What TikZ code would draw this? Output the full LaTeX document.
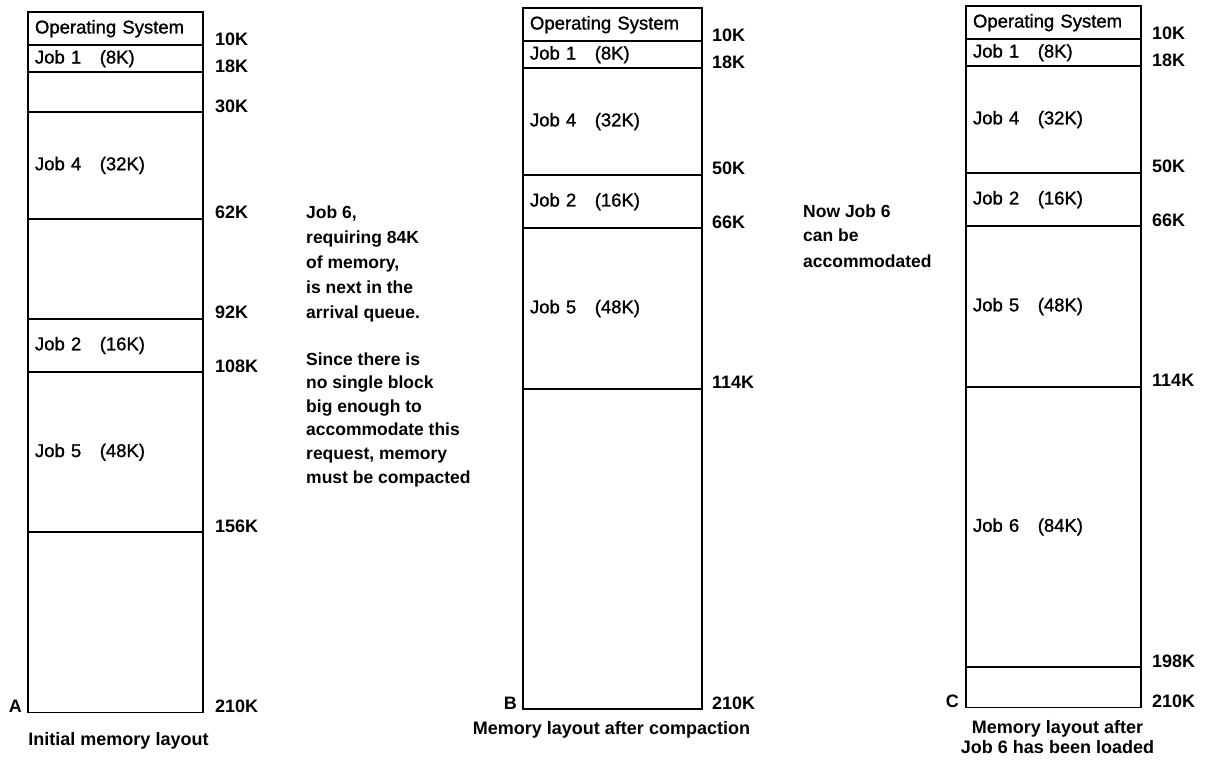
\documentclass[tikz,border=0pt]{standalone}
\usepackage{fontspec}
\setmainfont{Liberation Sans}
\newfontfamily\blkfont{Liberation Sans}[FakeBold=1.2]
\usetikzlibrary{positioning}

\begin{document}
\begin{tikzpicture}[
    x=1pt, y=-1pt,
    node distance=0pt,
    blk/.style={rectangle, draw=black, line width=1.8pt, outer sep=0pt, inner xsep=7pt, inner ysep=0pt, text width=161pt, align=left, font=\blkfont\fontsize{18.5}{20}\selectfont},
    klab/.style={anchor=base west, inner sep=0pt, font=\fontsize{18}{20}\selectfont\bfseries},
    tag/.style={anchor=base east, inner sep=0pt, font=\fontsize{18}{20}\selectfont\bfseries},
    captxt/.style={anchor=base, inner sep=0pt, align=center, font=\fontsize{18}{20}\selectfont\bfseries},
    note/.style={anchor=base west, inner sep=0pt, align=left, font=\fontsize{17.5}{25}\selectfont\bfseries}
]
\useasboundingbox (0,0) rectangle (1209,767);

% Layout A: initial memory
\node[blk, minimum height=33.4pt, anchor=north west] (aos) at (28,12) {Operating System};
\node[blk, minimum height=26.7pt, below=of aos] (a1) {Job 1\quad(8K)};
\node[blk, minimum height=40.0pt, below=of a1] (afree1) {};
\node[blk, minimum height=106.7pt, below=of afree1] (a4) {Job 4\quad(32K)};
\node[blk, minimum height=100.0pt, below=of a4] (afree2) {};
\node[blk, minimum height=53.4pt, below=of afree2] (a2) {Job 2\quad(16K)};
\node[blk, minimum height=160.1pt, below=of a2] (a5) {Job 5\quad(48K)};
\node[blk, minimum height=180.1pt, below=of a5] (afree3) {};

\node[klab] (ka10) at ([xshift=12pt]aos.south east) {10K};
\node[klab] (ka18) at ([xshift=12pt]a1.south east) {18K};
\node[klab] (ka30) at ([xshift=12pt]afree1.south east) {30K};
\node[klab] (ka62) at ([xshift=12pt]a4.south east) {62K};
\node[klab] (ka92) at ([xshift=12pt]afree2.south east) {92K};
\node[klab] (ka108) at ([xshift=12pt]a2.south east) {108K};
\node[klab] (ka156) at ([xshift=12pt]a5.south east) {156K};
\node[klab] (ka210) at ([xshift=12pt]afree3.south east) {210K};
\node[tag] (taga) at ([xshift=-6pt]afree3.south west) {A};
\node[captxt] (capa) at ([xshift=3pt, yshift=-32.6pt]afree3.south) {Initial memory layout};

% Notes between A and B
\node[note] (notejob) at (306,318) {Job 6,\\requiring 84K\\of memory,\\is next in the\\arrival queue.};
\node[note, font=\fontsize{17.5}{23.6}\selectfont\bfseries] (notecompact) at (306,483) {Since there is\\no single block\\big enough to\\accommodate this\\request, memory\\must be compacted};

% Layout B: after compaction
\node[blk, text width=165pt, minimum height=33.4pt, anchor=north west] (bos) at (523,8) {Operating System};
\node[blk, text width=165pt, minimum height=26.7pt, below=of bos] (b1) {Job 1\quad(8K)};
\node[blk, text width=165pt, minimum height=106.9pt, below=of b1] (b4) {Job 4\quad(32K)};
\node[blk, text width=165pt, minimum height=53.4pt, below=of b4] (b2) {Job 2\quad(16K)};
\node[blk, text width=165pt, minimum height=160.3pt, below=of b2] (b5) {Job 5\quad(48K)};
\node[blk, text width=165pt, minimum height=320.6pt, below=of b5] (bfree) {};

\node[klab] (kb10) at ([xshift=10pt]bos.south east) {10K};
\node[klab] (kb18) at ([xshift=10pt]b1.south east) {18K};
\node[klab] (kb50) at ([xshift=10pt]b4.south east) {50K};
\node[klab] (kb66) at ([xshift=10pt]b2.south east) {66K};
\node[klab] (kb114) at ([xshift=10pt]b5.south east) {114K};
\node[klab] (kb210) at ([xshift=10pt]bfree.south east) {210K};
\node[tag] (tagb) at ([xshift=-6pt]bfree.south west) {B};
\node[captxt] (capb) at ([xshift=-1pt, yshift=-25.6pt]bfree.south) {Memory layout after compaction};

% Note between B and C
\node[note] (notenow) at (803,267) {Now Job 6\\can be\\accommodated};

% Layout C: Job 6 loaded
\node[blk, minimum height=33.4pt, anchor=north west] (cos) at (966,6) {Operating System};
\node[blk, minimum height=26.7pt, below=of cos] (c1) {Job 1\quad(8K)};
\node[blk, minimum height=106.9pt, below=of c1] (c4) {Job 4\quad(32K)};
\node[blk, minimum height=53.4pt, below=of c4] (c2) {Job 2\quad(16K)};
\node[blk, minimum height=160.3pt, below=of c2] (c5) {Job 5\quad(48K)};
\node[blk, minimum height=280.6pt, below=of c5] (c6) {Job 6\quad(84K)};
\node[blk, minimum height=40.1pt, below=of c6] (cfree) {};

\node[klab] (kc10) at ([xshift=11pt]cos.south east) {10K};
\node[klab] (kc18) at ([xshift=11pt]c1.south east) {18K};
\node[klab] (kc50) at ([xshift=11pt]c4.south east) {50K};
\node[klab] (kc66) at ([xshift=11pt]c2.south east) {66K};
\node[klab] (kc114) at ([xshift=11pt]c5.south east) {114K};
\node[klab] (kc198) at ([xshift=11pt]c6.south east) {198K};
\node[klab] (kc210) at ([xshift=11pt]cfree.south east) {210K};
\node[tag] (tagc) at ([xshift=-7pt]cfree.south west) {C};
\node[captxt] (capc) at ([xshift=4pt, yshift=-45.6pt]cfree.south) {Memory layout after\\Job 6 has been loaded};

\end{tikzpicture}
\end{document}
